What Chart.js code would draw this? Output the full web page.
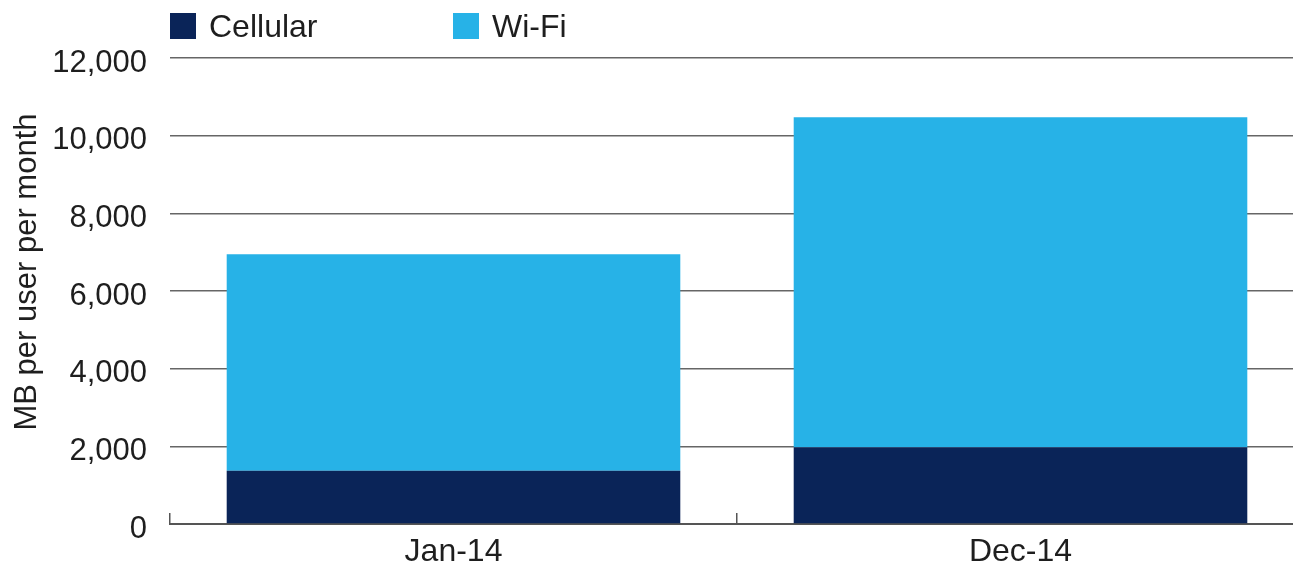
<!DOCTYPE html>
<html>
<head>
<meta charset="utf-8">
<script src="https://cdn.jsdelivr.net/npm/chart.js@4.4.1/dist/chart.umd.min.js"></script>
<style>
    body { margin: 0; background: #fff; overflow: hidden; }
    #wrap { width: 1311px; height: 570px; position: relative; }
</style>
</head>
<body>
<div id="wrap"><canvas id="barChartUso"></canvas></div>
<script>
// dados do grafico
var categorias = ["Jan-14", "Dec-14"];
var nomesSeries = ["Cellular", "Wi-Fi"];
var celular = [1370, 1975];
var wifi = [5575, 8500];
var ticksY = [0, 2000, 4000, 6000, 8000, 10000, 12000];
var tituloEixoY = "MB per user per month";

var fonte = '"Liberation Sans", Arial, sans-serif';

// legenda e titulo do eixo Y desenhados a mao
var legendaPlugin = {
    id: 'legendaTopo',
    afterDraw: function (chart) {
        var ctx = chart.ctx;
        var posX = [170, 453];
        ctx.save();
        ctx.font = '32px ' + fonte;
        ctx.textBaseline = 'middle';
        ctx.textAlign = 'left';
        chart.data.datasets.forEach(function (ds, i) {
            ctx.fillStyle = ds.backgroundColor;
            ctx.fillRect(posX[i], 13, 26, 26);
            ctx.fillStyle = '#1e1e1e';
            ctx.fillText(ds.label, posX[i] + 39, 28);
        });
        ctx.translate(27, 272);
        ctx.rotate(-Math.PI / 2);
        ctx.textAlign = 'center';
        ctx.font = '31px ' + fonte;
        ctx.fillText(tituloEixoY, 0, 0);
        ctx.restore();
    }
};

var barData = {
    labels: categorias,
    datasets: [
        {
            label: nomesSeries[0],
            backgroundColor: "#0a2458",
            borderWidth: 0,
            data: celular
        },
        {
            label: nomesSeries[1],
            backgroundColor: "#27b2e7",
            borderWidth: 0,
            data: wifi
        }
    ]
};

var barOptions = {
    responsive: true,
    maintainAspectRatio: false,
    animation: false,
    layout: { padding: { top: 58, right: 7, left: 0, bottom: 0 } },
    datasets: { bar: { categoryPercentage: 1, barPercentage: 0.8 } },
    plugins: {
        legend: { display: false },
        tooltip: { enabled: false }
    },
    scales: {
        x: {
            stacked: true,
            grid: { offset: true, drawOnChartArea: false, drawTicks: true, tickLength: -11, color: '#555', lineWidth: 1.5 },
            border: { color: '#555', width: 2 },
            ticks: { padding: 20, color: '#1e1e1e', font: { size: 32, family: fonte } },
            afterFit: function (s) { s.height = 46; }
        },
        y: {
            stacked: true,
            min: 0,
            max: 12000,
            grid: { color: '#666', lineWidth: 1.6, drawTicks: false },
            border: { display: false },
            afterBuildTicks: function (s) {
                s.ticks = ticksY.map(function (v) { return { value: v }; });
            },
            ticks: {
                padding: 23,
                labelOffset: 5,
                color: '#1e1e1e',
                font: { size: 31, family: fonte },
                callback: function (v) { return v.toLocaleString('en-US'); }
            },
            afterFit: function (s) { s.width = 170; }
        }
    }
};

var ctx1 = document.getElementById("barChartUso").getContext("2d");
new Chart(ctx1, { type: 'bar', data: barData, options: barOptions, plugins: [legendaPlugin] });
</script>
</body>
</html>
